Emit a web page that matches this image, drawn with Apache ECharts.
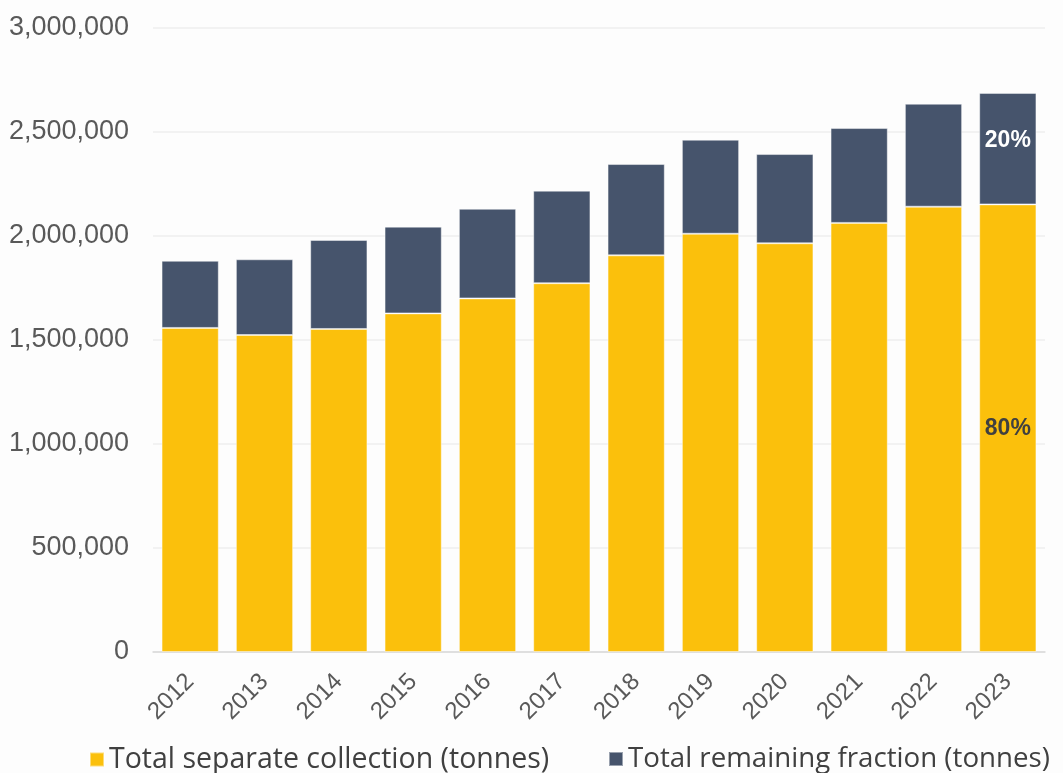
<!DOCTYPE html>
<html>
<head>
<meta charset="utf-8">
<title>Separate collection vs remaining fraction</title>
<script src="https://cdn.jsdelivr.net/npm/echarts@6/dist/echarts.min.js"></script>
<style>
  html, body { margin: 0; padding: 0; background: #fdfdfd; }
  #main { width: 1063px; height: 773px; }
</style>
</head>
<body>
<div id="main"></div>
<script>
// data (tonnes)
var years = ['2012', '2013', '2014', '2015', '2016', '2017', '2018', '2019', '2020', '2021', '2022', '2023'];
var separateCollection = [1558000, 1524000, 1553000, 1628000, 1700000, 1773000, 1907000, 2011000, 1965000, 2063000, 2141000, 2152000];
var remainingFraction = [323000, 364000, 428000, 417000, 431000, 445000, 439000, 452000, 429000, 456000, 495000, 536000];
var seriesNames = ['Total separate collection (tonnes)', 'Total remaining fraction (tonnes)'];
var shareLabels = ['80%', '20%']; // only shown on the last bar

var chart = echarts.init(document.getElementById('main'));

function lastLabel(txt){
    return function(p){
        return p.dataIndex === years.length - 1 ? txt : '';
    };
}

var option = {
    backgroundColor: '#fdfdfd',
    animation: false,
    grid: { left: 153, right: 18, top: 28, bottom: 121 },
    legend: [
        {
            data: [seriesNames[0]],
            left: 84, top: 740,
            itemWidth: 14, itemHeight: 14, itemGap: 8,
            icon: 'rect',
            textStyle: { fontFamily: 'Open Sans, sans-serif', fontSize: 28.5, color: '#404040' }
        },
        {
            data: [seriesNames[1]],
            left: 603, top: 740,
            itemWidth: 14, itemHeight: 14, itemGap: 8,
            icon: 'rect',
            textStyle: { fontFamily: 'Open Sans, sans-serif', fontSize: 27.7, color: '#404040' }
        }
    ],
    xAxis: {
        type: 'category',
        data: years,
        axisTick: { show: false },
        axisLine: { lineStyle: { color: '#d9d9d9', width: 1.5 } },
        axisLabel: { rotate: 45, margin: 26, fontSize: 24, color: '#595959', fontFamily: 'Liberation Sans, Arial, sans-serif' }
    },
    yAxis: {
        type: 'value',
        min: 0,
        max: 3000000,
        interval: 500000,
        axisLabel: {
            margin: 24,
            fontSize: 27,
            color: '#595959',
            fontFamily: 'Liberation Sans, Arial, sans-serif',
            formatter: function(v){ return v.toLocaleString('en-US'); }
        },
        splitLine: { lineStyle: { color: '#eeeeee', width: 1.5 } }
    },
    series: [
        {
            name: seriesNames[0],
            type: 'bar',
            stack: 'total',
            data: separateCollection,
            barCategoryGap: '23%',
            itemStyle: { color: '#fbc00c', borderColor: 'rgba(255,255,255,0.45)', borderWidth: 1 },
            label: {
                show: true,
                position: 'inside',
                formatter: lastLabel(shareLabels[0]),
                fontSize: 23,
                fontWeight: 'bold',
                color: '#404040',
                fontFamily: 'Liberation Sans, Arial, sans-serif'
            }
        },
        {
            name: seriesNames[1],
            type: 'bar',
            stack: 'total',
            data: remainingFraction,
            itemStyle: { color: '#46546c', borderColor: 'rgba(255,255,255,0.45)', borderWidth: 1 },
            label: {
                show: true,
                position: 'inside',
                offset: [0, -8],
                formatter: lastLabel(shareLabels[1]),
                fontSize: 23,
                fontWeight: 'bold',
                color: '#ffffff',
                fontFamily: 'Liberation Sans, Arial, sans-serif'
            }
        }
    ]
};

chart.setOption(option);
window.addEventListener('resize', function(){
    if(chart){
        chart.resize();
    }
});
</script>
</body>
</html>
